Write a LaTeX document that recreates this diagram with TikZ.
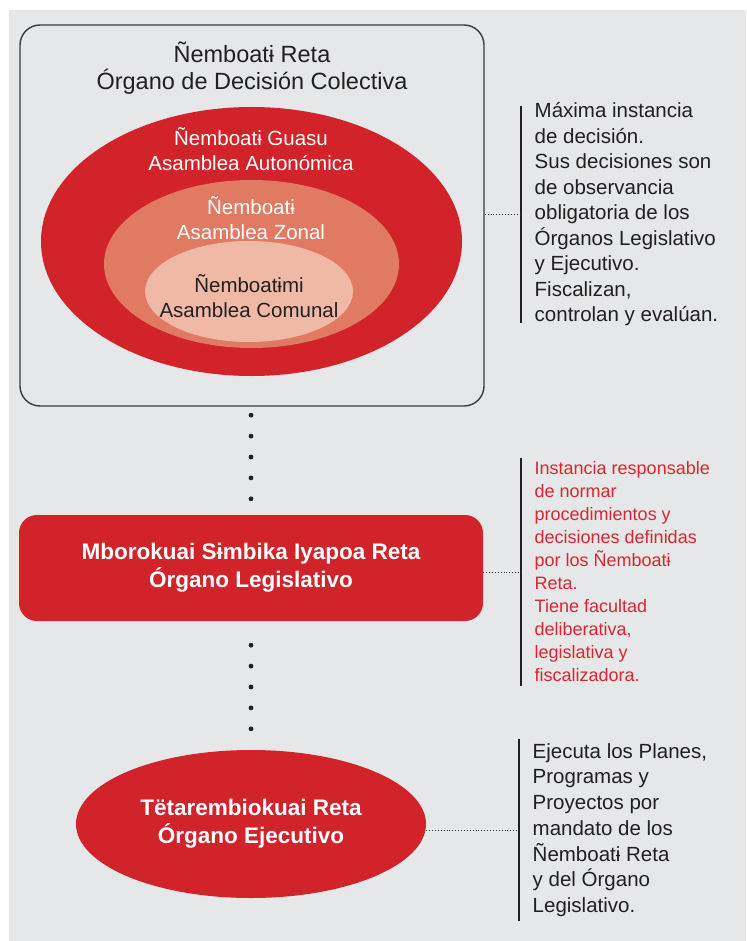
\documentclass[tikz,border=0pt]{standalone}
\usepackage{fontspec}
\setmainfont{Liberation Sans}
\usetikzlibrary{shapes.geometric,positioning,calc}

\definecolor{panel}{HTML}{E6E7E8}
\definecolor{retared}{HTML}{D2232A}
\definecolor{zonalred}{HTML}{E07A62}
\definecolor{comunalred}{HTML}{F0B9A6}
\definecolor{notered}{HTML}{D9262F}
\definecolor{inkblack}{HTML}{231F20}
\definecolor{frame}{HTML}{3A3A3A}

\begin{document}
\begin{tikzpicture}
  [
    x = 1pt, y = -1pt,
    organ/.style = {rectangle, rounded corners=20pt, minimum width=464pt, inner sep=0pt},
    assembly/.style = {ellipse, inner sep=0pt},
    assembly label/.style = {align=center, font=\fontsize{20.5}{24.5}\selectfont},
    organ title/.style = {align=center, text=white, font=\bfseries\fontsize{22.5}{28}\selectfont},
    note/.style = {anchor=west, align=left, inner xsep=13.5pt, inner ysep=4pt, text=inkblack,
                   font=\fontsize{20.5}{25.5}\selectfont},
    note bar/.style = {line width=2.8pt, inkblack},
    link/.style = {dotted, line width=0.9pt, frame},
    chain dot/.style = {fill=inkblack},
  ]

  \useasboundingbox (0,0) rectangle (746,941);
  \fill[panel] (9,10) rectangle (746,941);

  % decision body
  \node[organ, draw=frame, fill=panel, line width=1.4pt, minimum height=381pt] (colectiva) at (252,215.5) {};
  \node[align=center, text=inkblack, font=\fontsize{23.5}{27}\selectfont] (colectiva title) at (252,68)
    {Ñemboatɨ Reta\\Órgano de Decisión Colectiva};

  \node[assembly, fill=retared,    minimum width=421pt, minimum height=269pt] (guasu)   at (251.5,241.5) {};
  \node[assembly, fill=zonalred,   minimum width=295pt, minimum height=168pt] (zonal)   at (251.5,264)   {};
  \node[assembly, fill=comunalred, minimum width=208pt, minimum height=101pt] (comunal) at (249,291.5)   {};

  \node[assembly label, text=white]    (guasu label)   at (251,149) {Ñemboatɨ Guasu\\Asamblea Autonómica};
  \node[assembly label, text=white]    (zonal label)   at (251,218) {Ñemboatɨ\\Asamblea Zonal};
  \node[assembly label, text=inkblack] (comunal label) at (249,296) {Ñemboatɨmi\\Asamblea Comunal};

  % organs
  \node[organ, rounded corners=18pt, fill=retared, minimum height=106pt, organ title] (legislativo) at (251,568)
    {Mborokuai Sɨmbika Iyapoa Reta\\Órgano Legislativo};
  \node[assembly, fill=retared, minimum width=350pt, minimum height=148pt, organ title] (ejecutivo) at (251,824)
    {Tëtarembiokuai Reta\\Órgano Ejecutivo};

  \foreach \nd/\gap in {legislativo/16, ejecutivo/21}
    \foreach \i in {0,...,4}
      \fill[chain dot] ($(\nd.north)+(0,-\gap-20.9*\i)$) circle (2.4pt);

  % notes
  \node[note, inner ysep=-3pt] (desc colectiva) at (521,214.5)
    {Máxima instancia\\de decisión.\\Sus decisiones son\\de observancia\\obligatoria de los\\Órganos Legislativo\\y Ejecutivo.\\Fiscalizan,\\controlan y evalúan.};
  \node[note, text=notered, font=\fontsize{18}{23}\selectfont] (desc legislativo) at (521,572)
    {Instancia responsable\\de normar\\procedimientos y\\decisiones definidas\\por los Ñemboatɨ\\Reta.\\Tiene facultad\\deliberativa,\\legislativa y\\fiscalizadora.};
  \node[note, font=\fontsize{20.5}{25.7}\selectfont] (desc ejecutivo) at (519,830)
    {Ejecuta los Planes,\\Programas y\\Proyectos por\\mandato de los\\Ñemboatɨ Reta\\y del Órgano\\Legislativo.};

  \foreach \nd in {colectiva, legislativo, ejecutivo} {
    \draw[note bar] (desc \nd.north west) -- (desc \nd.south west);
    \draw[link] (\nd.east |- desc \nd.west) -- (desc \nd.west);
  }

\end{tikzpicture}
\end{document}
